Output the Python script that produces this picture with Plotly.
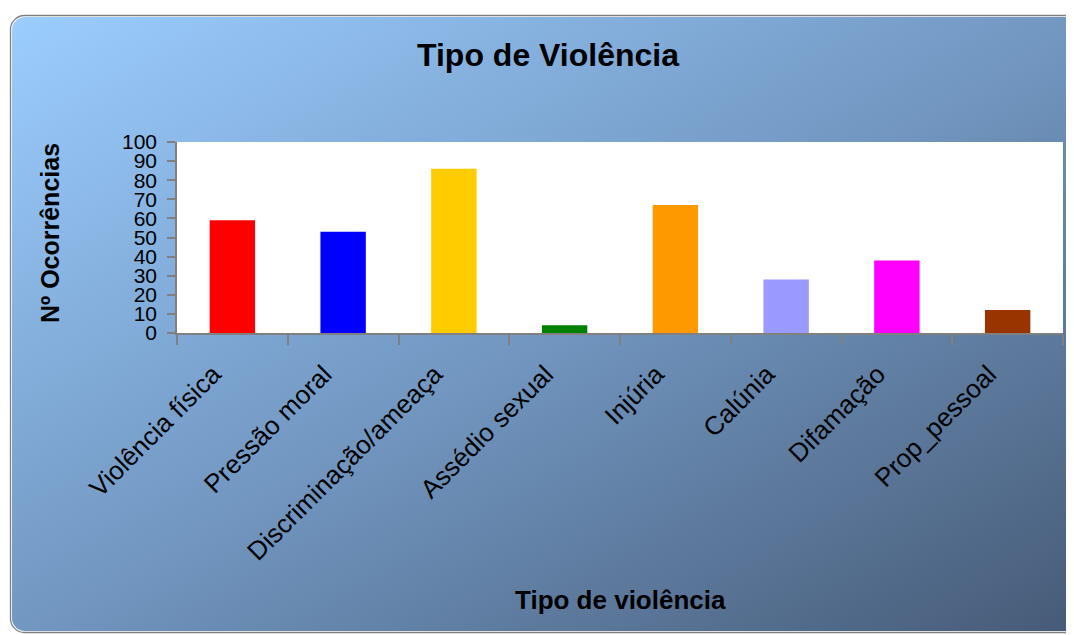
import base64
import plotly.graph_objects as go

# ---- data ----
categories = ["Violência física", "Pressão moral", "Discriminação/ameaça", "Assédio sexual",
              "Injúria", "Calúnia", "Difamação", "Prop_pessoal"]
values = [59, 53, 86, 4, 67, 28, 38, 12]
bar_colors = ["#FF0000", "#0000FF", "#FFCC00", "#008000", "#FF9900", "#9999FF", "#FF00FF", "#993300"]
y_ticks = [0, 10, 20, 30, 40, 50, 60, 70, 80, 90, 100]

# page body has an 8px margin, so the figure is drawn 8px in from the window edge
W, H = 1066, 627
L, R, T = 169, 11, 134
pw, ph = 886, 191
B = H - T - ph

FONT = "Liberation Sans, Arial, sans-serif"

svg = f'''<svg xmlns="http://www.w3.org/2000/svg" width="{W}" height="{H}" viewBox="0 0 {W} {H}">
<defs><linearGradient id="g" x1="0" y1="0" x2="1" y2="1">
<stop offset="0" stop-color="#9BCDFF"/>
<stop offset="0.5" stop-color="#7297C1"/>
<stop offset="1" stop-color="#465A76"/>
</linearGradient></defs>
<rect x="2.5" y="7.5" width="1075" height="617" rx="14" ry="14" fill="#FFFFFF" stroke="#7F7F7F" stroke-width="1.3"/>
<rect x="4" y="9" width="1073" height="614" rx="13" ry="13" fill="url(#g)"/>
</svg>'''
src = "data:image/svg+xml;base64," + base64.b64encode(svg.encode("utf-8")).decode("ascii")

fig = go.Figure(go.Bar(
    x=categories, y=values, marker=dict(color=bar_colors, line=dict(width=0)),
    showlegend=False,
))

fig.update_layout(
    width=W, height=H,
    margin=dict(l=L, r=R, t=T, b=B, autoexpand=False),
    paper_bgcolor="#FFFFFF",
    plot_bgcolor="rgba(0,0,0,0)",
    bargap=0.59,
    font=dict(family=FONT, color="#000000"),
    title=dict(text="Tipo de Violência", x=540 / W, xref="container", xanchor="center",
               y=1 - 47 / H, yref="container", yanchor="middle",
               font=dict(family=FONT, size=32, weight="bold", color="#000000")),
    xaxis=dict(
        showline=True, linecolor="#808080", linewidth=1.5,
        ticks="outside", tickson="boundaries", ticklen=10, tickcolor="#808080", tickwidth=1.5,
        tickangle=-45, tickfont=dict(family=FONT, size=26, color="#000000"),
        ticklabelstandoff=14, ticklabelshift=-19,
        showgrid=False, zeroline=False, fixedrange=True,
    ),
    yaxis=dict(
        range=[0, 100], tickvals=y_ticks, showline=True, linecolor="#808080", linewidth=1.5,
        ticks="outside", ticklen=8, tickcolor="#808080", tickwidth=1.5, ticklabelstandoff=6,
        tickfont=dict(family=FONT, size=21, color="#000000"),
        showgrid=False, zeroline=False, fixedrange=True,
    ),
    images=[dict(source=src, xref="paper", yref="paper", x=-L / pw, y=1 + T / ph,
                 sizex=W / pw, sizey=H / ph, sizing="stretch", xanchor="left", yanchor="top",
                 layer="below")],
    shapes=[dict(type="rect", xref="paper", yref="paper", x0=0, x1=1, y0=0, y1=1,
                 fillcolor="#FFFFFF", line=dict(width=0), layer="below")],
    annotations=[
        dict(text="Nº Ocorrências", xref="paper", yref="paper", x=(42 - L) / pw, y=(ph - (225 - T)) / ph,
             textangle=-90, showarrow=False, xanchor="center", yanchor="middle",
             font=dict(family=FONT, size=25, weight="bold", color="#000000")),
        dict(text="Tipo de violência", xref="paper", yref="paper", x=(612 - L) / pw, y=-(592 - T - ph) / ph,
             showarrow=False, xanchor="center", yanchor="middle",
             font=dict(family=FONT, size=26, weight="bold", color="#000000")),
    ],
)

fig.write_html("out.html")
